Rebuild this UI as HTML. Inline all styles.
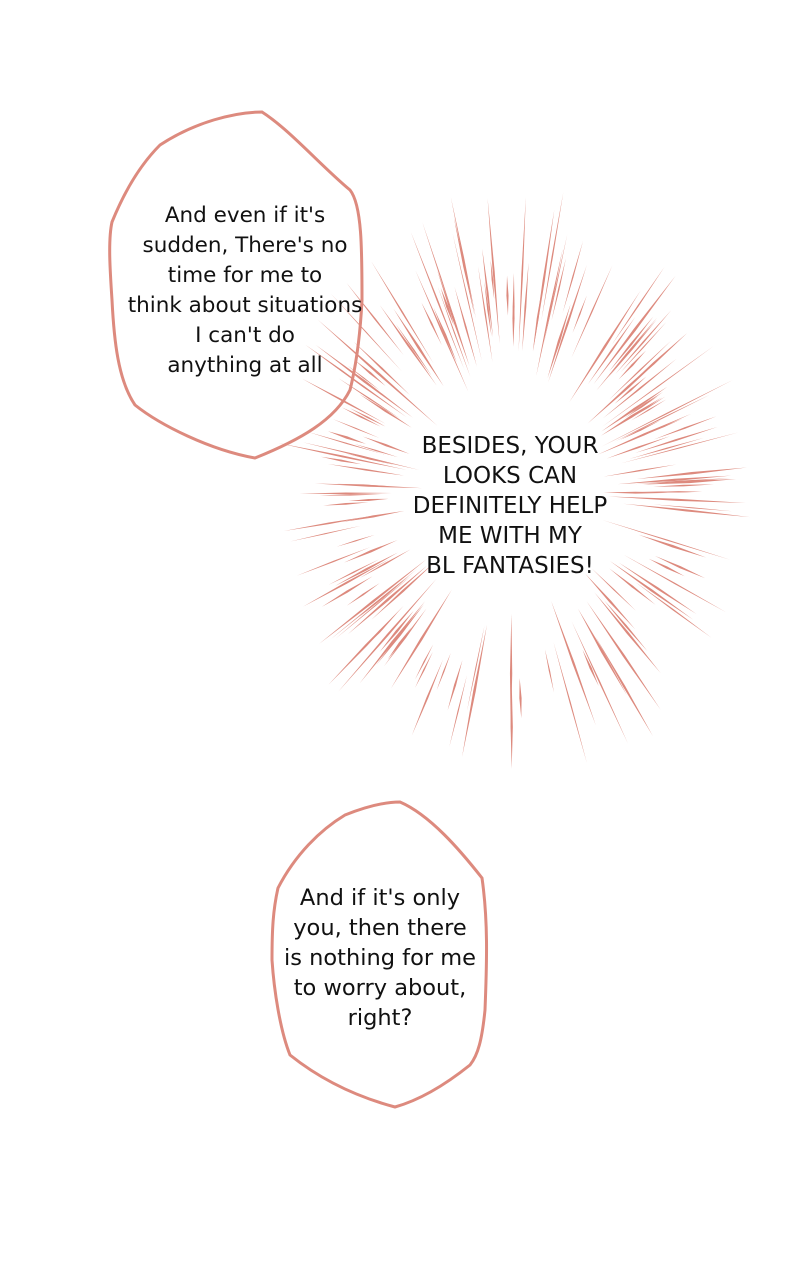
<!DOCTYPE html>
<html><head><meta charset="utf-8"><style>
html,body{margin:0;padding:0;background:#fff;width:800px;height:1280px;overflow:hidden}
svg{position:absolute;left:0;top:0}
.t{position:absolute;font-family:"DejaVu Sans","Liberation Sans",sans-serif;line-height:30px;text-align:center;color:#111;white-space:nowrap}
</style></head><body>
<svg id="s" width="800" height="1280" viewBox="0 0 800 1280">
<g id="rays" fill="#dd8a7e"></g>
<path d="M262,112 C290,130 320,165 350,190 C362,205 362,250 362,300 C360,340 355,370 350,390 C335,420 300,440 255,458 C210,450 160,425 135,405 C118,380 114,340 112,300 C110,270 108,240 112,222 C125,190 140,165 160,145 C195,122 235,112 262,112 Z" fill="none" stroke="#dd8a7e" stroke-width="3"/>
<path d="M400,802 C430,815 460,850 482,878 C488,920 487,960 485,1010 C482,1040 478,1055 470,1065 C445,1085 420,1100 395,1107 C350,1095 315,1075 290,1055 C280,1030 274,990 272,960 C272,930 273,910 278,888 C295,855 320,830 345,815 C365,807 385,802 400,802 Z" fill="#fff" stroke="#dd8a7e" stroke-width="3"/>
</svg>
<div class="t" style="left:105px;top:201px;width:280px;font-size:21.5px">And even if it's<br>sudden, There's no<br>time for me to<br>think about situations<br>I can't do<br>anything at all</div>
<div class="t" style="left:370px;top:431px;width:280px;font-size:23px">BESIDES, YOUR<br>LOOKS CAN<br>DEFINITELY HELP<br>ME WITH MY<br>BL FANTASIES!</div>
<div class="t" style="left:250px;top:883px;width:260px;font-size:22.5px">And if it's only<br>you, then there<br>is nothing for me<br>to worry about,<br>right?</div>
<script>
var g=document.getElementById('rays'),seed=11;
function r(){seed=(seed*16807)%2147483647;return seed/2147483647;}
function er(c,s,rx,ry){return 1/Math.sqrt((c/rx)*(c/rx)+(s/ry)*(s/ry));}
var cx=512,cy=492,h='';
for(var i=0;i<170;i++){
 var a=r()*Math.PI*2;
 var c=Math.cos(a),s=Math.sin(a);
 var k0=0.75+r()*0.55, k1=0.65+r()*0.37;
 var r0=er(c,s,120,150)*k0, r1=er(c,s,235,305)*k1;
 if(r1<r0+40) r1=r0+40;
 var w=0.5+r()*0.8;
 var x0=cx+c*r0,y0=cy+s*r0,x1=cx+c*r1,y1=cy+s*r1;
 var m=0.5,mx=cx+c*(r0+(r1-r0)*m),my=cy+s*(r0+(r1-r0)*m);
 h+='<polygon points="'+x0+','+y0+' '+(mx-s*w)+','+(my+c*w)+' '+x1+','+y1+' '+(mx+s*w)+','+(my-c*w)+'"/>';
}
g.innerHTML=h;
</script>
</body></html>
